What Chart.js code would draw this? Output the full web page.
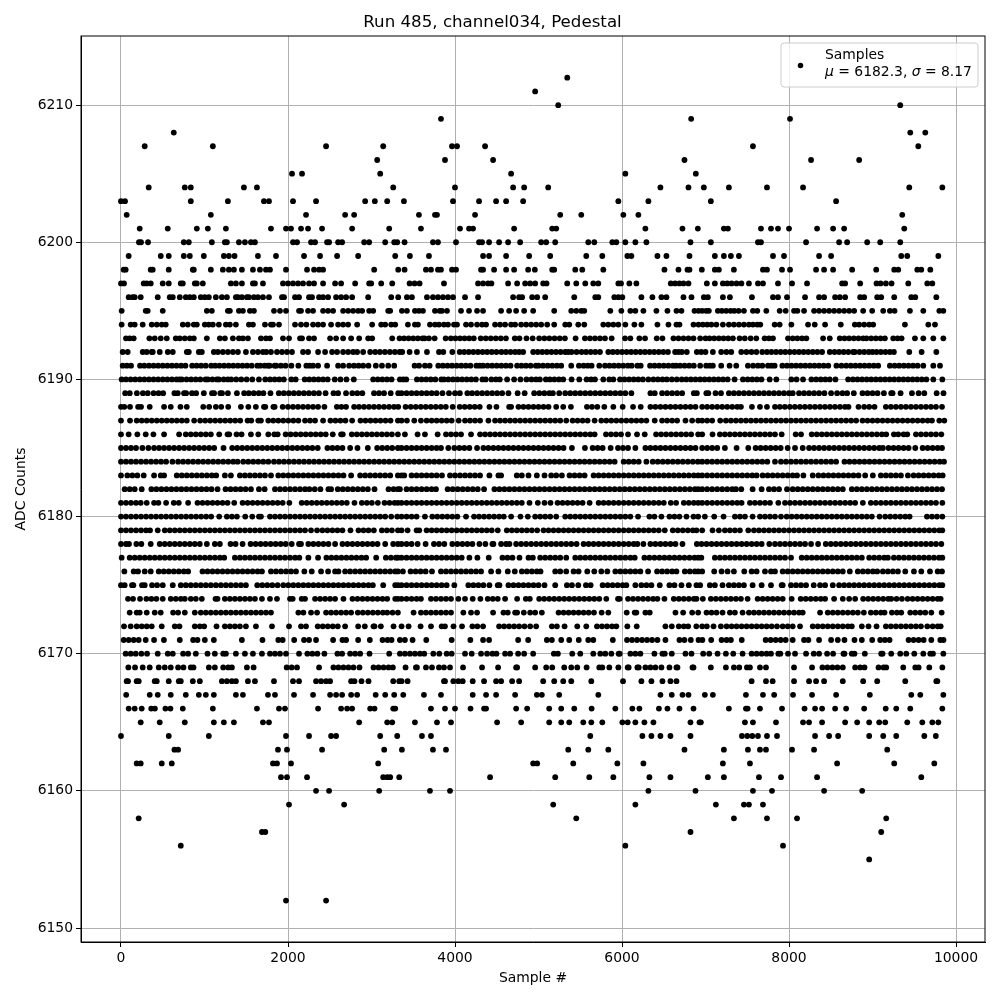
<!DOCTYPE html>
<html>
<head>
<meta charset="utf-8">
<title>Run 485, channel034, Pedestal</title>
<script src="https://cdn.jsdelivr.net/npm/chart.js@4"></script>
<style>
  html, body { margin: 0; padding: 0; background: #fff; }
  canvas { display: block; }
</style>
</head>
<body>
<canvas id="chart" width="1000" height="1000"></canvas>
<script>
"use strict";

const chartTitle = "Run 485, channel034, Pedestal";
const xTitle = "Sample #";
const yTitle = "ADC Counts";
const seriesName = "Samples";
const xTicks = [0, 2000, 4000, 6000, 8000, 10000];
const yTicks = [6150, 6160, 6170, 6180, 6190, 6200, 6210];

// sample numbers, one list per ADC level
const a6212 = [5344];
const a6211 = [4960];
const a6210 = [5236, 9332];
const a6209 = [3832, 6828, 8012];
const a6208 = [632, 9452, 9632];
const a6207 = [284, 1100, 2456, 3140, 3964, 4024, 4360, 7568, 9548];
const a6206 = [3068, 3880, 4456, 6748, 8264, 8840];
const a6205 = [2048, 2168, 3104, 4672, 6040, 6884];
const a6204 = [332, 764, 836, 1472, 1628, 3260, 4000, 4696, 4828, 5116, 6460, 6796, 6980, 7280, 7736, 8168, 9440, 9836];
const a6203 = [0, 48, 836, 1280, 1712, 1772, 2060, 2336, 2924, 3040, 3188, 3388, 3976, 4288, 4492, 4612, 4816, 5956, 6316, 7064, 8564];
const a6202 = [68, 1076, 2216, 2684, 2792, 3568, 3760, 3784, 4240, 5260, 5512, 6016, 6196, 9356];
const a6201 = [224, 560, 908, 1040, 1256, 1796, 1976, 2036, 2156, 2240, 2408, 2768, 3212, 3592, 4060, 4168, 4216, 4708, 5164, 5212, 6280, 6724, 6908, 7220, 7268, 7664, 7784, 7868, 8000, 8336, 8528, 8660, 9380];
const a6200 = [215, 240, 324, 752, 812, 1088, 1244, 1268, 1412, 1484, 1556, 1604, 2060, 2108, 2276, 2324, 2468, 2492, 2600, 2648, 2912, 2972, 3164, 3272, 3308, 3396, 3736, 3796, 4012, 4288, 4324, 4408, 4528, 4636, 4780, 5032, 5092, 5200, 5596, 5668, 5884, 5932, 6040, 6160, 6292, 6820, 7064, 7628, 7664, 8204, 8600, 8696, 8936, 9092, 9332];
const a6199 = [92, 476, 572, 752, 824, 992, 1232, 1292, 1360, 1640, 1856, 2192, 2384, 2588, 2840, 3284, 3460, 3688, 4336, 4408, 4612, 4888, 5140, 5572, 5764, 6064, 6112, 6424, 6532, 6808, 7112, 7220, 7304, 7400, 7808, 7940, 8360, 8504, 9344, 9416, 9788];
const a6198 = [32, 56, 356, 380, 572, 860, 872, 1076, 1220, 1292, 1352, 1448, 1580, 1664, 1736, 1784, 1976, 2228, 2312, 2372, 2420, 3032, 3320, 3396, 3652, 3712, 3796, 3832, 3964, 4012, 4312, 4336, 4468, 4612, 4708, 4876, 4956, 5164, 5188, 5440, 5524, 5776, 6508, 6676, 6784, 6808, 6956, 7112, 7160, 7340, 7688, 7736, 7916, 8012, 8324, 8420, 8528, 8756, 9044, 9260, 9308, 9536, 9584, 9692];
const a6197 = [0, 36, 272, 308, 356, 500, 572, 716, 740, 884, 908, 980, 1316, 1376, 1448, 1580, 1604, 1700, 1940, 2000, 2060, 2120, 2180, 2252, 2312, 2420, 2564, 2636, 2804, 2972, 2996, 3116, 3248, 3456, 3516, 3576, 3868, 4276, 4336, 4396, 4436, 4636, 4744, 4840, 4900, 4960, 5056, 5096, 5344, 5452, 5560, 5656, 5716, 5956, 5988, 6088, 6172, 6584, 6636, 6688, 6736, 6796, 7016, 7112, 7208, 7260, 7312, 7372, 7430, 7520, 7628, 7688, 7868, 8036, 8216, 8636, 8672, 8852, 9048, 9096, 9160, 9228, 9428, 9656, 9716];
const a6196 = [92, 140, 164, 236, 440, 584, 620, 704, 776, 824, 872, 956, 1004, 1052, 1136, 1208, 1268, 1376, 1400, 1448, 1508, 1532, 1592, 1640, 1700, 1772, 1928, 1952, 2084, 2132, 2252, 2288, 2372, 2420, 2480, 2576, 2636, 2696, 2768, 2960, 3236, 3320, 3424, 3484, 3664, 3736, 3796, 3856, 3916, 3976, 4120, 4276, 4696, 4768, 4804, 4924, 4984, 5080, 5428, 5680, 5716, 5908, 5956, 6004, 6232, 6364, 6472, 6532, 6736, 6832, 6980, 7028, 7208, 7292, 7556, 7808, 7868, 7976, 8192, 8360, 8420, 8552, 8608, 8672, 8852, 8900, 9056, 9104, 9260, 9464, 9512, 9764];
const a6195 = [8, 296, 320, 500, 1028, 1088, 1280, 1304, 1412, 1460, 1544, 1592, 1832, 1904, 1976, 2132, 2156, 2240, 2300, 2420, 2480, 2540, 2660, 2720, 2780, 2840, 2888, 2972, 3020, 3200, 3224, 3364, 3424, 3520, 3568, 3616, 3760, 3816, 3844, 3904, 4072, 4168, 4264, 4336, 4552, 4648, 4732, 4828, 4936, 5188, 5392, 5452, 5512, 5548, 5860, 5992, 6100, 6160, 6256, 6412, 6544, 6652, 6712, 6868, 6916, 6960, 7008, 7040, 7148, 7196, 7248, 7300, 7344, 7396, 7460, 7568, 7620, 7728, 7888, 7960, 8060, 8100, 8180, 8300, 8360, 8420, 8480, 8540, 8600, 8660, 8720, 8780, 8888, 8996, 9128, 9208, 9264, 9448, 9608, 9800, 9848];
const a6194 = [8, 116, 164, 260, 368, 428, 488, 536, 740, 800, 872, 908, 1004, 1052, 1100, 1172, 1256, 1304, 1376, 1532, 1580, 1724, 1796, 1820, 1892, 2084, 2156, 2220, 2300, 2360, 2420, 2516, 2600, 2660, 2720, 2828, 3008, 3116, 3164, 3236, 3284, 3436, 3520, 3556, 3700, 3760, 3808, 3868, 3916, 3988, 4024, 4132, 4192, 4264, 4324, 4372, 4480, 4540, 4600, 4672, 4720, 4792, 4852, 4912, 4972, 5032, 5104, 5188, 5320, 5368, 5476, 5548, 5776, 5836, 5896, 5956, 6040, 6148, 6232, 6424, 6556, 6652, 6688, 6856, 6916, 6968, 7020, 7070, 7130, 7208, 7280, 7340, 7400, 7460, 7520, 7568, 7620, 7656, 7828, 7888, 8028, 8228, 8308, 8432, 8620, 8788, 8840, 8900, 8960, 9008, 9388, 9668, 9748];
const a6193 = [60, 104, 152, 340, 404, 476, 548, 656, 704, 764, 824, 872, 1028, 1184, 1244, 1340, 1412, 1460, 1520, 1676, 1736, 1784, 1940, 2012, 2144, 2168, 2252, 2312, 2504, 2576, 2660, 2756, 2852, 2960, 3008, 3248, 3336, 3390, 3445, 3500, 3555, 3610, 3636, 3688, 3756, 3888, 3950, 4005, 4060, 4115, 4170, 4225, 4308, 4368, 4428, 4488, 4548, 4610, 4716, 4772, 4856, 4930, 5008, 5070, 5130, 5192, 5254, 5316, 5444, 5556, 5616, 5676, 5736, 5796, 5876, 6036, 6100, 6208, 6276, 6416, 6484, 6616, 6676, 6736, 6796, 6856, 6936, 7000, 7048, 7104, 7160, 7216, 7272, 7328, 7408, 7470, 7540, 7608, 7708, 7760, 7808, 7988, 8044, 8100, 8156, 8208, 8408, 8488, 8608, 8664, 8720, 8776, 8832, 8888, 8928, 8984, 9040, 9096, 9148, 9248, 9300, 9348, 9508, 9608, 9728, 9848];
const a6192 = [20, 80, 260, 308, 368, 380, 464, 560, 620, 788, 812, 932, 968, 1112, 1160, 1220, 1280, 1340, 1400, 1496, 1580, 1640, 1700, 1740, 1796, 1868, 1928, 1988, 2048, 2180, 2240, 2360, 2444, 2528, 2588, 2660, 2720, 2780, 2828, 2900, 2984, 3044, 3100, 3160, 3220, 3280, 3336, 3368, 3456, 3544, 3664, 3808, 3860, 3968, 4056, 4110, 4165, 4220, 4275, 4330, 4385, 4440, 4496, 4556, 4610, 4665, 4720, 4768, 4816, 4936, 4990, 5045, 5100, 5155, 5210, 5265, 5320, 5356, 5396, 5456, 5516, 5570, 5625, 5680, 5736, 5836, 5890, 5945, 6000, 6055, 6110, 6165, 6220, 6275, 6330, 6385, 6440, 6495, 6550, 6636, 6676, 6716, 6776, 6896, 6948, 7000, 7088, 7188, 7250, 7308, 7428, 7490, 7550, 7610, 7680, 7736, 7790, 7845, 7900, 7955, 8010, 8065, 8120, 8175, 8230, 8285, 8340, 8396, 8488, 8545, 8600, 8655, 8710, 8768, 8788, 8845, 8900, 8955, 9000, 9048, 9100, 9155, 9208, 9256, 9440, 9588, 9764];
const a6191 = [20, 70, 120, 228, 280, 335, 390, 445, 500, 555, 610, 665, 720, 772, 852, 905, 960, 1015, 1080, 1128, 1180, 1235, 1290, 1345, 1400, 1455, 1510, 1565, 1632, 1668, 1720, 1760, 1780, 1840, 1860, 1915, 1970, 2040, 2124, 2220, 2260, 2300, 2360, 2468, 2600, 2660, 2732, 2790, 2845, 2900, 2964, 3052, 3125, 3200, 3272, 3516, 3570, 3640, 3696, 3800, 3855, 3910, 3965, 4020, 4075, 4130, 4185, 4256, 4296, 4336, 4390, 4445, 4500, 4555, 4610, 4665, 4744, 4796, 4850, 4905, 4968, 5000, 5055, 5110, 5165, 5220, 5272, 5392, 5484, 5540, 5590, 5636, 5728, 5796, 5850, 5905, 5960, 6015, 6070, 6116, 6184, 6224, 6336, 6390, 6445, 6500, 6555, 6610, 6648, 6696, 6750, 6805, 6860, 6936, 7008, 7050, 7088, 7188, 7288, 7368, 7508, 7570, 7628, 7680, 7748, 7790, 7828, 7920, 7975, 8030, 8085, 8140, 8195, 8250, 8305, 8360, 8415, 8470, 8568, 8628, 8685, 8740, 8795, 8850, 8905, 8960, 9015, 9068, 9208, 9265, 9320, 9375, 9430, 9485, 9540, 9608, 9728, 9808];
const a6190 = [8, 60, 115, 170, 225, 280, 335, 390, 445, 500, 555, 610, 665, 700, 728, 785, 840, 895, 950, 1012, 1040, 1095, 1148, 1172, 1230, 1280, 1320, 1380, 1440, 1505, 1572, 1652, 1728, 1785, 1840, 1895, 1950, 2040, 2092, 2200, 2255, 2310, 2365, 2420, 2475, 2560, 2628, 2700, 2788, 3020, 3075, 3130, 3185, 3240, 3340, 3380, 3416, 3544, 3600, 3655, 3710, 3765, 3836, 3868, 3920, 3975, 4030, 4085, 4140, 4195, 4250, 4328, 4368, 4436, 4490, 4536, 4624, 4708, 4784, 4856, 4916, 4970, 5016, 5088, 5136, 5190, 5245, 5296, 5396, 5488, 5576, 5630, 5676, 5776, 5848, 5896, 5976, 6030, 6085, 6140, 6195, 6250, 6316, 6376, 6430, 6485, 6536, 6596, 6656, 6716, 6770, 6825, 6880, 6936, 6990, 7045, 7100, 7155, 7210, 7265, 7348, 7448, 7505, 7560, 7615, 7670, 7768, 7848, 8028, 8090, 8168, 8268, 8325, 8380, 8435, 8488, 8556, 8708, 8765, 8820, 8875, 8930, 8985, 9040, 9095, 9150, 9205, 9260, 9315, 9370, 9425, 9480, 9535, 9590, 9645, 9728, 9836];
const a6189 = [50, 105, 190, 262, 320, 390, 450, 505, 640, 680, 755, 780, 850, 900, 992, 1090, 1115, 1190, 1210, 1280, 1388, 1475, 1530, 1590, 1650, 1705, 1790, 1890, 1950, 2010, 2070, 2130, 2190, 2250, 2310, 2370, 2450, 2545, 2600, 2695, 2770, 2830, 2890, 3030, 3090, 3150, 3230, 3320, 3360, 3420, 3480, 3540, 3600, 3660, 3720, 3780, 3850, 3928, 4000, 4058, 4148, 4205, 4265, 4325, 4385, 4445, 4505, 4565, 4640, 4750, 4834, 4948, 5010, 5070, 5130, 5172, 5248, 5320, 5380, 5440, 5500, 5560, 5620, 5680, 5740, 5800, 5860, 5920, 5980, 6040, 6112, 6340, 6392, 6480, 6540, 6600, 6660, 6720, 6860, 6896, 7010, 7034, 7120, 7185, 7280, 7340, 7400, 7460, 7520, 7580, 7640, 7700, 7760, 7820, 7880, 7940, 8000, 8044, 8120, 8180, 8240, 8300, 8360, 8424, 8504, 8576, 8640, 8696, 8776, 8880, 8940, 9000, 9060, 9136, 9224, 9240, 9336, 9472, 9552, 9620, 9768, 9850];
const a6188 = [0, 40, 108, 205, 240, 344, 516, 596, 712, 788, 985, 1056, 1136, 1200, 1284, 1436, 1525, 1615, 1712, 1728, 1825, 1840, 1936, 2000, 2060, 2120, 2180, 2240, 2300, 2360, 2436, 2585, 2640, 2695, 2792, 2850, 2910, 2970, 3030, 3090, 3150, 3210, 3270, 3320, 3408, 3470, 3530, 3590, 3650, 3710, 3770, 3830, 3890, 3972, 4056, 4116, 4176, 4236, 4296, 4412, 4496, 4648, 4672, 4760, 4820, 4880, 4940, 5000, 5060, 5120, 5212, 5296, 5388, 5580, 5640, 5704, 5788, 5896, 6008, 6132, 6224, 6340, 6400, 6460, 6520, 6580, 6640, 6700, 6760, 6820, 6880, 6960, 7020, 7080, 7140, 7200, 7260, 7320, 7380, 7424, 7556, 7652, 7736, 7832, 7890, 7950, 8010, 8070, 8130, 8190, 8250, 8310, 8370, 8430, 8490, 8550, 8610, 8670, 8712, 8832, 8900, 8960, 9024, 9160, 9220, 9280, 9340, 9400, 9460, 9520, 9580, 9640, 9700, 9760, 9832];
const a6187 = [0, 108, 188, 248, 308, 368, 428, 488, 548, 608, 668, 728, 788, 876, 948, 1008, 1068, 1128, 1188, 1248, 1308, 1368, 1428, 1516, 1560, 1644, 1676, 1764, 1824, 1884, 1944, 2004, 2064, 2124, 2204, 2264, 2324, 2420, 2508, 2568, 2628, 2688, 2768, 2868, 2928, 2988, 3048, 3108, 3168, 3228, 3316, 3360, 3424, 3512, 3592, 3660, 3720, 3780, 3840, 3900, 3960, 4044, 4120, 4180, 4240, 4300, 4400, 4480, 4540, 4600, 4660, 4720, 4780, 4840, 4900, 4960, 5020, 5080, 5140, 5200, 5260, 5332, 5408, 5468, 5528, 5588, 5672, 5752, 5812, 5872, 5932, 5992, 6052, 6112, 6172, 6232, 6292, 6392, 6480, 6540, 6600, 6660, 6760, 6840, 6912, 6960, 7020, 7080, 7176, 7244, 7304, 7364, 7424, 7484, 7544, 7604, 7664, 7724, 7784, 7844, 7904, 7964, 8024, 8084, 8144, 8204, 8264, 8324, 8384, 8444, 8504, 8564, 8624, 8684, 8744, 8804, 8880, 8940, 9000, 9060, 9120, 9180, 9240, 9300, 9360, 9420, 9480, 9540, 9600, 9660, 9712, 9800, 9860];
const a6186 = [0, 92, 196, 296, 388, 516, 696, 776, 836, 896, 956, 1016, 1076, 1176, 1276, 1296, 1384, 1444, 1556, 1644, 1764, 1836, 1876, 1972, 2032, 2092, 2152, 2212, 2272, 2332, 2392, 2452, 2536, 2636, 2656, 2764, 2824, 2884, 2944, 3004, 3064, 3124, 3184, 3244, 3316, 3400, 3552, 3640, 3792, 3892, 3952, 4012, 4072, 4192, 4300, 4360, 4420, 4480, 4540, 4600, 4660, 4720, 4780, 4840, 4900, 4960, 5020, 5080, 5140, 5200, 5260, 5320, 5380, 5440, 5500, 5560, 5620, 5672, 5808, 5868, 5928, 5988, 6072, 6180, 6272, 6408, 6468, 6528, 6588, 6648, 6708, 6768, 6828, 6912, 6960, 7084, 7172, 7232, 7292, 7352, 7412, 7472, 7532, 7592, 7652, 7712, 7772, 7832, 7912, 8080, 8144, 8272, 8332, 8392, 8452, 8512, 8572, 8632, 8692, 8752, 8812, 8872, 8932, 8992, 9052, 9112, 9164, 9256, 9308, 9372, 9416, 9520, 9580, 9640, 9700, 9760, 9824];
const a6185 = [0, 60, 120, 180, 256, 328, 396, 456, 516, 576, 636, 696, 756, 816, 876, 936, 996, 1056, 1116, 1228, 1332, 1392, 1452, 1512, 1572, 1632, 1692, 1752, 1812, 1872, 1932, 1992, 2052, 2112, 2172, 2232, 2292, 2356, 2472, 2532, 2592, 2652, 2744, 2832, 2956, 3068, 3128, 3188, 3248, 3316, 3360, 3420, 3480, 3540, 3600, 3660, 3720, 3780, 3832, 3920, 3992, 4052, 4112, 4172, 4264, 4340, 4400, 4460, 4520, 4580, 4640, 4700, 4760, 4820, 4880, 4940, 5000, 5060, 5120, 5180, 5240, 5300, 5400, 5556, 5648, 5708, 5768, 5864, 5952, 6012, 6072, 6160, 6280, 6340, 6400, 6460, 6520, 6580, 6640, 6700, 6760, 6820, 6880, 6960, 7020, 7080, 7140, 7232, 7372, 7512, 7600, 7660, 7720, 7780, 7840, 7900, 7984, 8072, 8164, 8240, 8300, 8360, 8420, 8480, 8540, 8600, 8660, 8720, 8780, 8840, 8900, 8960, 9020, 9080, 9124, 9192, 9252, 9312, 9372, 9432, 9512, 9600, 9660, 9720, 9780, 9832];
const a6184 = [0, 60, 120, 180, 240, 300, 360, 420, 480, 540, 616, 684, 744, 804, 864, 924, 984, 1044, 1104, 1164, 1224, 1284, 1344, 1396, 1464, 1524, 1584, 1644, 1704, 1764, 1832, 1892, 1952, 2012, 2072, 2132, 2192, 2252, 2312, 2372, 2432, 2492, 2552, 2612, 2672, 2732, 2792, 2852, 2912, 2972, 3032, 3092, 3152, 3212, 3272, 3332, 3392, 3452, 3512, 3572, 3632, 3692, 3752, 3812, 3872, 3932, 3992, 4052, 4112, 4172, 4232, 4292, 4352, 4412, 4472, 4532, 4592, 4652, 4712, 4772, 4832, 4892, 4952, 5012, 5072, 5132, 5192, 5252, 5312, 5372, 5432, 5492, 5552, 5612, 5672, 5732, 5792, 5852, 5912, 6020, 6080, 6140, 6200, 6292, 6368, 6428, 6488, 6548, 6608, 6668, 6728, 6788, 6848, 6908, 6960, 7020, 7080, 7140, 7200, 7260, 7320, 7380, 7440, 7500, 7560, 7620, 7680, 7740, 7832, 7904, 7964, 8024, 8084, 8144, 8204, 8264, 8324, 8384, 8444, 8504, 8564, 8664, 8724, 8784, 8844, 8904, 8964, 9024, 9084, 9144, 9204, 9264, 9324, 9384, 9444, 9504, 9564, 9624, 9684, 9744, 9804, 9856];
const a6183 = [0, 76, 136, 196, 272, 396, 476, 516, 668, 728, 788, 848, 908, 968, 1028, 1088, 1140, 1244, 1316, 1424, 1484, 1544, 1604, 1664, 1724, 1796, 1884, 1944, 2004, 2064, 2124, 2184, 2244, 2304, 2364, 2424, 2484, 2544, 2604, 2664, 2756, 2864, 2924, 2984, 3044, 3104, 3164, 3224, 3316, 3360, 3392, 3480, 3540, 3600, 3660, 3720, 3780, 3844, 3940, 4000, 4060, 4120, 4180, 4240, 4300, 4412, 4520, 4552, 4740, 4800, 4880, 4980, 5072, 5152, 5212, 5280, 5372, 5432, 5492, 5552, 5660, 5720, 5780, 5840, 5900, 5960, 6020, 6080, 6140, 6200, 6260, 6320, 6380, 6440, 6500, 6560, 6620, 6680, 6740, 6800, 6860, 6912, 6960, 7020, 7080, 7140, 7200, 7260, 7320, 7380, 7440, 7500, 7560, 7612, 7684, 7744, 7804, 7864, 7924, 7984, 8044, 8096, 8172, 8284, 8352, 8412, 8472, 8532, 8592, 8652, 8712, 8772, 8832, 8912, 9004, 9100, 9160, 9220, 9280, 9340, 9424, 9492, 9552, 9612, 9672, 9732, 9792, 9840];
const a6182 = [44, 104, 164, 248, 364, 424, 484, 544, 604, 664, 724, 784, 844, 904, 964, 1024, 1084, 1156, 1252, 1312, 1372, 1432, 1492, 1556, 1652, 1720, 1844, 1904, 1964, 2024, 2084, 2144, 2204, 2256, 2320, 2388, 2484, 2516, 2596, 2656, 2716, 2776, 2836, 2896, 2956, 3036, 3204, 3264, 3316, 3340, 3420, 3480, 3540, 3600, 3660, 3720, 3772, 3912, 3972, 4032, 4092, 4152, 4212, 4272, 4348, 4472, 4532, 4592, 4652, 4712, 4772, 4832, 4892, 4952, 5012, 5072, 5132, 5192, 5252, 5312, 5372, 5432, 5492, 5552, 5612, 5672, 5732, 5792, 5852, 5912, 5972, 6032, 6092, 6152, 6212, 6272, 6332, 6392, 6452, 6512, 6572, 6632, 6692, 6752, 6812, 6872, 6912, 6960, 7020, 7080, 7140, 7200, 7260, 7320, 7364, 7428, 7564, 7672, 7760, 7820, 7880, 7976, 8044, 8104, 8164, 8224, 8284, 8344, 8404, 8464, 8524, 8584, 8644, 8752, 8812, 8872, 8932, 8992, 9052, 9112, 9172, 9232, 9292, 9352, 9412, 9472, 9532, 9592, 9652, 9712, 9772, 9832];
const a6181 = [0, 60, 120, 180, 236, 308, 396, 448, 540, 632, 692, 804, 916, 976, 1036, 1096, 1156, 1216, 1276, 1356, 1456, 1516, 1576, 1636, 1696, 1756, 1816, 1876, 1936, 2016, 2164, 2224, 2284, 2344, 2404, 2464, 2524, 2584, 2644, 2704, 2796, 2884, 2944, 3004, 3076, 3156, 3216, 3276, 3316, 3360, 3420, 3480, 3540, 3600, 3660, 3720, 3780, 3840, 3900, 3960, 4020, 4080, 4140, 4200, 4260, 4320, 4380, 4440, 4500, 4560, 4620, 4680, 4740, 4800, 4892, 4992, 5072, 5144, 5228, 5288, 5348, 5408, 5468, 5528, 5612, 5720, 5780, 5840, 5900, 5960, 6020, 6080, 6140, 6200, 6260, 6320, 6380, 6440, 6500, 6584, 6648, 6740, 6800, 6860, 6912, 6960, 7020, 7080, 7140, 7200, 7260, 7320, 7380, 7432, 7532, 7592, 7652, 7712, 7772, 7872, 7952, 8012, 8072, 8132, 8192, 8252, 8312, 8372, 8432, 8492, 8552, 8612, 8672, 8732, 8792, 8884, 8980, 9040, 9100, 9160, 9220, 9280, 9340, 9400, 9460, 9520, 9580, 9640, 9700, 9760, 9836];
const a6180 = [0, 60, 120, 180, 240, 300, 360, 420, 480, 540, 600, 660, 720, 780, 840, 900, 960, 1020, 1080, 1176, 1268, 1328, 1388, 1488, 1572, 1652, 1676, 1784, 1844, 1904, 1964, 2024, 2084, 2144, 2204, 2264, 2324, 2384, 2444, 2504, 2564, 2624, 2684, 2744, 2804, 2864, 2924, 2984, 3044, 3104, 3164, 3236, 3308, 3360, 3420, 3480, 3540, 3640, 3728, 3788, 3848, 3908, 3968, 4028, 4132, 4228, 4288, 4348, 4408, 4468, 4528, 4584, 4672, 4784, 4872, 4960, 5020, 5080, 5140, 5212, 5320, 5380, 5440, 5500, 5560, 5620, 5680, 5740, 5800, 5860, 5920, 5980, 6040, 6100, 6192, 6328, 6388, 6472, 6568, 6628, 6688, 6772, 6856, 6912, 6992, 7104, 7216, 7352, 7412, 7472, 7564, 7652, 7712, 7772, 7832, 7904, 7972, 8032, 8092, 8152, 8212, 8272, 8332, 8392, 8452, 8512, 8572, 8632, 8692, 8752, 8812, 8872, 8932, 8992, 9084, 9152, 9212, 9272, 9332, 9392, 9444, 9652, 9712, 9772, 9836];
const a6179 = [0, 60, 120, 180, 240, 300, 348, 440, 524, 584, 644, 704, 764, 824, 884, 944, 1004, 1064, 1124, 1184, 1244, 1304, 1364, 1424, 1484, 1544, 1604, 1664, 1724, 1784, 1844, 1904, 1964, 2024, 2084, 2144, 2204, 2276, 2348, 2412, 2472, 2532, 2592, 2652, 2748, 2844, 2904, 2964, 3028, 3124, 3184, 3244, 3316, 3360, 3432, 3540, 3572, 3660, 3720, 3780, 3840, 3900, 3960, 4020, 4080, 4140, 4200, 4260, 4320, 4380, 4440, 4512, 4620, 4680, 4740, 4800, 4860, 4920, 4984, 5060, 5120, 5180, 5240, 5300, 5360, 5420, 5480, 5540, 5600, 5660, 5720, 5780, 5840, 5900, 5960, 6020, 6080, 6140, 6200, 6260, 6320, 6380, 6440, 6512, 6608, 6668, 6728, 6788, 6848, 6892, 6960, 7084, 7160, 7232, 7292, 7352, 7412, 7512, 7580, 7640, 7700, 7760, 7820, 7880, 7940, 8000, 8060, 8120, 8180, 8240, 8300, 8360, 8420, 8480, 8540, 8600, 8660, 8720, 8780, 8840, 8900, 8960, 9020, 9080, 9140, 9200, 9260, 9320, 9380, 9440, 9500, 9560, 9620, 9680, 9740, 9800, 9836];
const a6178 = [0, 60, 96, 184, 244, 356, 464, 524, 584, 644, 704, 764, 824, 884, 944, 1028, 1124, 1184, 1312, 1372, 1456, 1552, 1612, 1672, 1732, 1792, 1852, 1912, 1972, 2044, 2132, 2156, 2244, 2304, 2364, 2424, 2484, 2564, 2652, 2712, 2772, 2832, 2892, 2952, 3012, 3072, 3164, 3260, 3316, 3360, 3420, 3480, 3552, 3648, 3748, 3808, 3872, 3968, 4028, 4088, 4148, 4208, 4292, 4364, 4448, 4460, 4552, 4612, 4652, 4732, 4792, 4852, 4912, 4972, 5032, 5092, 5152, 5212, 5272, 5332, 5392, 5456, 5540, 5600, 5660, 5720, 5780, 5840, 5900, 5960, 6020, 6080, 6140, 6184, 6256, 6340, 6400, 6460, 6520, 6580, 6640, 6724, 6896, 6952, 7012, 7072, 7132, 7192, 7252, 7312, 7372, 7432, 7492, 7552, 7612, 7672, 7764, 7832, 7892, 7952, 8012, 8072, 8132, 8192, 8264, 8348, 8440, 8500, 8560, 8620, 8680, 8740, 8800, 8860, 8920, 8980, 9040, 9100, 9160, 9220, 9280, 9340, 9400, 9460, 9520, 9580, 9640, 9700, 9760, 9824];
const a6177 = [8, 104, 164, 224, 284, 344, 404, 464, 524, 584, 644, 704, 764, 824, 884, 944, 1004, 1064, 1124, 1184, 1236, 1364, 1424, 1484, 1544, 1604, 1664, 1724, 1784, 1844, 1904, 1964, 2024, 2084, 2136, 2244, 2360, 2460, 2520, 2580, 2640, 2700, 2760, 2820, 2880, 2936, 3056, 3172, 3232, 3292, 3316, 3360, 3420, 3480, 3540, 3600, 3660, 3720, 3780, 3840, 3900, 3960, 4020, 4080, 4172, 4268, 4404, 4568, 4628, 4688, 4772, 4880, 4932, 5020, 5080, 5140, 5200, 5260, 5332, 5440, 5500, 5560, 5620, 5680, 5740, 5800, 5860, 5920, 5980, 6040, 6100, 6152, 6268, 6328, 6388, 6448, 6508, 6568, 6628, 6688, 6748, 6808, 6868, 6912, 6950, 7112, 7172, 7232, 7292, 7352, 7412, 7472, 7532, 7592, 7652, 7712, 7772, 7832, 7892, 7952, 8024, 8152, 8212, 8272, 8332, 8392, 8452, 8512, 8572, 8632, 8692, 8752, 8812, 8872, 8960, 9020, 9080, 9140, 9184, 9256, 9316, 9376, 9436, 9496, 9556, 9616, 9676, 9736, 9796, 9836];
const a6176 = [40, 152, 204, 284, 356, 452, 512, 572, 632, 692, 752, 804, 976, 1036, 1096, 1156, 1216, 1276, 1336, 1396, 1456, 1516, 1576, 1636, 1688, 1796, 1856, 1916, 1976, 2036, 2096, 2196, 2284, 2396, 2480, 2564, 2604, 2684, 2744, 2804, 2864, 2924, 2984, 3044, 3104, 3164, 3224, 3284, 3316, 3376, 3468, 3528, 3588, 3648, 3724, 3832, 3892, 3952, 4012, 4072, 4132, 4192, 4252, 4312, 4432, 4520, 4632, 4716, 4800, 4860, 4920, 4980, 5024, 5200, 5260, 5332, 5420, 5480, 5584, 5668, 5752, 5824, 5920, 5980, 6040, 6100, 6160, 6220, 6312, 6420, 6480, 6540, 6600, 6652, 6752, 6812, 6872, 6912, 6960, 7104, 7192, 7264, 7340, 7464, 7552, 7612, 7712, 7784, 7832, 7924, 7984, 8044, 8104, 8164, 8224, 8284, 8344, 8404, 8464, 8524, 8584, 8644, 8728, 8824, 8884, 8944, 9004, 9056, 9124, 9184, 9244, 9304, 9392, 9496, 9584, 9688, 9780, 9832];
const a6175 = [0, 44, 132, 148, 252, 284, 372, 432, 500, 620, 716, 776, 836, 896, 956, 1016, 1076, 1136, 1196, 1256, 1316, 1376, 1436, 1496, 1632, 1692, 1752, 1812, 1876, 1944, 2004, 2064, 2124, 2184, 2244, 2304, 2364, 2424, 2484, 2544, 2604, 2664, 2724, 2784, 2844, 2904, 2964, 3016, 3140, 3284, 3316, 3360, 3420, 3480, 3540, 3600, 3660, 3720, 3780, 3840, 3900, 3992, 4160, 4220, 4280, 4340, 4412, 4512, 4532, 4640, 4700, 4760, 4820, 4880, 4940, 5000, 5072, 5200, 5340, 5400, 5476, 5568, 5624, 5768, 5828, 5888, 5948, 6008, 6052, 6160, 6232, 6292, 6352, 6452, 6568, 6628, 6712, 6800, 6892, 6936, 7052, 7112, 7204, 7280, 7340, 7400, 7460, 7564, 7672, 7784, 7912, 7924, 8024, 8084, 8144, 8204, 8296, 8372, 8432, 8524, 8600, 8660, 8720, 8780, 8840, 8900, 8960, 9020, 9080, 9140, 9200, 9260, 9320, 9380, 9440, 9500, 9560, 9620, 9680, 9740, 9800, 9836];
const a6174 = [84, 144, 228, 304, 364, 424, 500, 596, 656, 716, 764, 836, 896, 968, 1132, 1156, 1244, 1304, 1364, 1424, 1484, 1544, 1604, 1688, 1784, 1868, 2024, 2056, 2164, 2204, 2324, 2384, 2444, 2504, 2564, 2664, 2772, 2832, 2892, 2952, 3012, 3072, 3132, 3188, 3284, 3316, 3360, 3420, 3480, 3540, 3592, 3712, 3772, 3832, 3892, 3952, 4040, 4120, 4212, 4304, 4392, 4452, 4512, 4600, 4744, 4848, 4896, 5008, 5068, 5128, 5188, 5248, 5308, 5368, 5428, 5488, 5548, 5608, 5668, 5728, 5812, 5952, 5972, 6072, 6132, 6192, 6252, 6312, 6372, 6424, 6508, 6620, 6680, 6740, 6800, 6860, 6892, 6968, 7064, 7124, 7184, 7244, 7304, 7364, 7424, 7504, 7624, 7684, 7744, 7804, 7864, 7924, 8032, 8140, 8200, 8260, 8320, 8380, 8432, 8540, 8644, 8720, 8792, 8888, 8948, 9008, 9068, 9128, 9188, 9224, 9288, 9352, 9420, 9480, 9540, 9600, 9660, 9720, 9780, 9816];
const a6173 = [104, 188, 224, 308, 404, 476, 624, 684, 764, 884, 956, 1016, 1076, 1136, 1196, 1256, 1316, 1376, 1436, 1496, 1556, 1616, 1676, 1736, 1796, 2124, 2184, 2276, 2348, 2456, 2516, 2576, 2636, 2696, 2756, 2836, 2896, 2956, 3016, 3076, 3136, 3188, 3252, 3316, 3504, 3592, 3652, 3712, 3772, 3832, 3892, 3952, 4100, 4192, 4264, 4456, 4580, 4632, 4720, 4744, 4824, 4900, 4960, 5040, 5240, 5300, 5360, 5420, 5480, 5540, 5600, 5664, 5756, 5836, 6056, 6152, 6172, 6280, 6332, 6640, 6732, 6840, 6912, 7012, 7072, 7132, 7204, 7292, 7352, 7444, 7520, 7580, 7640, 7700, 7760, 7820, 7880, 7940, 8000, 8060, 8120, 8164, 8372, 8464, 8524, 8584, 8644, 8704, 8764, 8824, 8896, 8980, 9040, 9100, 9144, 9232, 9292, 9344, 9452, 9512, 9572, 9632, 9704, 9828];
const a6172 = [36, 116, 188, 248, 308, 368, 488, 644, 700, 884, 944, 996, 1144, 1244, 1304, 1364, 1424, 1496, 1616, 1808, 2012, 2156, 2216, 2356, 2416, 2476, 2536, 2596, 2684, 2840, 2920, 3024, 3036, 3112, 3264, 3360, 3444, 3588, 3712, 3840, 3880, 3982, 4084, 4208, 4268, 4336, 4528, 4588, 4648, 4708, 4768, 4832, 4900, 4972, 5160, 5220, 5312, 5464, 5572, 5700, 5760, 5820, 5880, 5932, 6064, 6176, 6520, 6596, 6680, 6740, 6792, 6890, 6960, 7016, 7096, 7184, 7252, 7312, 7372, 7432, 7492, 7552, 7612, 7672, 7732, 7792, 7856, 7924, 7984, 8044, 8132, 8284, 8344, 8404, 8464, 8524, 8584, 8644, 8704, 8752, 8872, 8952, 9048, 9160, 9220, 9280, 9340, 9400, 9460, 9520, 9580, 9656, 9720, 9780, 9816];
const a6171 = [32, 92, 152, 212, 296, 396, 514, 704, 864, 916, 1004, 1112, 1448, 1694, 1884, 1936, 2074, 2192, 2252, 2336, 2540, 2652, 2696, 2840, 2980, 3132, 3192, 3240, 3340, 3400, 3492, 3656, 3960, 4184, 4336, 4408, 4756, 4876, 5100, 5160, 5272, 5368, 5482, 5596, 5656, 5890, 6060, 6120, 6180, 6240, 6300, 6360, 6424, 6520, 6688, 6748, 6824, 6916, 6962, 7068, 7192, 7252, 7304, 7434, 7720, 7780, 7840, 7900, 7960, 8044, 8180, 8232, 8360, 8504, 8584, 8664, 8784, 8872, 8996, 9092, 9148, 9204, 9432, 9492, 9552, 9612, 9704, 9812, 9850];
const a6170 = [56, 116, 176, 244, 312, 440, 560, 620, 744, 804, 896, 1036, 1124, 1224, 1256, 1376, 1484, 1580, 1688, 1784, 1844, 1904, 1976, 2132, 2232, 2292, 2352, 2436, 2592, 2648, 2744, 2804, 2864, 2976, 3212, 3340, 3400, 3460, 3520, 3580, 3632, 3740, 3812, 3900, 3960, 4120, 4200, 4312, 4384, 4448, 4496, 4600, 4660, 4756, 4828, 4936, 5184, 5232, 5404, 5500, 5656, 5740, 5800, 5872, 5960, 5972, 6100, 6160, 6220, 6388, 6484, 6512, 6596, 6760, 6832, 6972, 7044, 7144, 7244, 7332, 7444, 7552, 7612, 7672, 7732, 7784, 7872, 7896, 7988, 8072, 8204, 8296, 8360, 8456, 8528, 8652, 8664, 8752, 8784, 8908, 9104, 9120, 9224, 9332, 9404, 9500, 9608, 9692, 9724, 9848];
const a6169 = [88, 168, 260, 344, 452, 524, 596, 684, 748, 836, 868, 1052, 1124, 1224, 1284, 1328, 1508, 1588, 1984, 2044, 2108, 2372, 2544, 2604, 2664, 2724, 2784, 2856, 3024, 3084, 3144, 3204, 3256, 3408, 3532, 3544, 3652, 3724, 3808, 3868, 3940, 4096, 4324, 4516, 4732, 4744, 4960, 5092, 5164, 5308, 5392, 5464, 5576, 5728, 5764, 5848, 5956, 6068, 6080, 6184, 6200, 6280, 6340, 6400, 6472, 6568, 6652, 6664, 6844, 6856, 7064, 7244, 7340, 7404, 7496, 7532, 7652, 7724, 8060, 8276, 8400, 8460, 8520, 8580, 8644, 8792, 8852, 8904, 9072, 9132, 9164, 9368, 9512, 9552, 9680, 9836];
const a6168 = [68, 84, 188, 212, 404, 428, 572, 692, 716, 860, 944, 1208, 1268, 1328, 1376, 1520, 1604, 1832, 2060, 2132, 2336, 2396, 2456, 2504, 2756, 2796, 2880, 2964, 3260, 3332, 3360, 3432, 3868, 3880, 3980, 4040, 4092, 4212, 4348, 4492, 4552, 4684, 4768, 5056, 5188, 5296, 5392, 5632, 6012, 6232, 6352, 6484, 6580, 6652, 7552, 7724, 7804, 8060, 8240, 8324, 8420, 8644, 8888, 9056, 9392, 9764, 9776];
const a6167 = [62, 344, 440, 596, 776, 932, 1016, 1112, 1376, 1460, 1760, 1844, 2072, 2300, 2504, 2576, 2648, 2756, 2828, 3050, 3164, 3272, 3380, 3628, 3832, 4212, 4372, 4492, 4720, 4980, 5040, 5248, 5716, 6460, 6596, 6724, 6796, 6992, 7088, 7484, 7688, 7822, 8048, 8276, 8564, 8968, 9464, 9572, 9848];
const a6166 = [92, 164, 248, 362, 406, 532, 592, 740, 1100, 1628, 1892, 1964, 2360, 2636, 2708, 2768, 2984, 3036, 3260, 3284, 3712, 3880, 4000, 4186, 4348, 4372, 4732, 4864, 5128, 5272, 5428, 5636, 5920, 6124, 6208, 6442, 6544, 6688, 6856, 7280, 7484, 7504, 7652, 7916, 8186, 8312, 8396, 8552, 8684, 8900, 9158, 9284, 9452, 9836];
const a6165 = [236, 464, 764, 1112, 1232, 1352, 1700, 1772, 2852, 3188, 3248, 3520, 3784, 3952, 4504, 4792, 5128, 5272, 5368, 5536, 5632, 5764, 6004, 6068, 6160, 6268, 6376, 6820, 6928, 6944, 7472, 7568, 7844, 8168, 8240, 8396, 8672, 8816, 8960, 9080, 9152, 9416, 9596, 9716, 9788];
const a6164 = [0, 572, 1052, 1976, 2252, 2516, 2576, 3104, 3308, 3604, 3712, 5620, 6244, 6352, 6460, 6580, 6820, 7436, 7500, 7560, 7628, 7736, 7856, 8312, 8480, 8588, 8960, 9128, 9284, 9620, 9758];
const a6163 = [640, 684, 1880, 1988, 2408, 3152, 3364, 3736, 3892, 5356, 5596, 5836, 6748, 7220, 7508, 7652, 7724, 8036, 8300, 9176];
const a6162 = [188, 236, 488, 608, 1820, 1868, 2036, 3080, 4936, 4984, 5416, 5944, 6256, 7208, 7532, 8576, 9260, 9740];
const a6161 = [1916, 1988, 2228, 3140, 3188, 3224, 3332, 4420, 5200, 5608, 5896, 6328, 6580, 7028, 7220, 7640, 7904, 8336, 9584];
const a6160 = [2336, 2492, 3092, 3700, 3940, 6316, 6880, 7568, 7796, 8420, 8876];
const a6159 = [2012, 2672, 5176, 6160, 7124, 7460, 7520, 7688];
const a6158 = [212, 5452, 7340, 7736, 8096, 9164];
const a6157 = [1688, 1728, 6820, 9104];
const a6156 = [716, 6040, 7928];
const a6155 = [8960];
const a6152 = [1976, 2456];

const adcLevels = [6212, 6211, 6210, 6209, 6208, 6207, 6206, 6205, 6204, 6203, 6202, 6201, 6200, 6199, 6198, 6197, 6196, 6195, 6194, 6193, 6192, 6191, 6190, 6189, 6188, 6187, 6186, 6185, 6184, 6183, 6182, 6181, 6180, 6179, 6178, 6177, 6176, 6175, 6174, 6173, 6172, 6171, 6170, 6169, 6168, 6167, 6166, 6165, 6164, 6163, 6162, 6161, 6160, 6159, 6158, 6157, 6156, 6155, 6152];
const samplesByLevel = [a6212, a6211, a6210, a6209, a6208, a6207, a6206, a6205, a6204, a6203, a6202, a6201, a6200, a6199, a6198, a6197, a6196, a6195, a6194, a6193, a6192, a6191, a6190, a6189, a6188, a6187, a6186, a6185, a6184, a6183, a6182, a6181, a6180, a6179, a6178, a6177, a6176, a6175, a6174, a6173, a6172, a6171, a6170, a6169, a6168, a6167, a6166, a6165, a6164, a6163, a6162, a6161, a6160, a6159, a6158, a6157, a6156, a6155, a6152];

const FONT = "'DejaVu Sans', sans-serif";

const points = [];
adcLevels.forEach((level, i) => {
  samplesByLevel[i].forEach((s) => points.push({ x: s, y: level }));
});

function pickTicks(list) {
  return (scale) => {
    scale.ticks = list.map((v) => ({ value: v }));
  };
}

// full frame round the plot, the axes only give left and bottom
const plotFrame = {
  id: "plotFrame",
  afterDatasetsDraw(chart) {
    const { left, top, width, height } = chart.chartArea;
    const ctx = chart.ctx;
    ctx.save();
    ctx.strokeStyle = "#000";
    ctx.lineWidth = 1;
    ctx.strokeRect(left, top, width, height);
    ctx.restore();
  },
};

// legend box with the mu and sigma in italics, like the mathtext in the original
const legendBox = {
  id: "legendBox",
  afterDraw(chart) {
    const ctx = chart.ctx;
    ctx.save();
    ctx.beginPath();
    ctx.roundRect(781, 43, 197, 44, 3);
    ctx.fillStyle = "rgba(255,255,255,0.8)";
    ctx.fill();
    ctx.strokeStyle = "#cccccc";
    ctx.lineWidth = 1;
    ctx.stroke();

    ctx.fillStyle = "#000";
    ctx.beginPath();
    ctx.arc(800.5, 65.5, 2.75, 0, Math.PI * 2);
    ctx.fill();

    ctx.textBaseline = "alphabetic";
    ctx.font = "13.9px " + FONT;
    ctx.fillText(seriesName, 825, 59);

    const parts = [
      ["\u03bc", true], [" = 6182.3, ", false], ["\u03c3", true], [" = 8.17", false],
    ];
    let x = 825;
    parts.forEach(([text, italic]) => {
      ctx.font = (italic ? "italic " : "") + "13.9px " + FONT;
      ctx.fillText(text, x, 76);
      x += ctx.measureText(text).width;
    });
    ctx.restore();
  },
};

new Chart(document.getElementById("chart"), {
  type: "scatter",
  data: {
    datasets: [
      {
        label: seriesName,
        data: points,
        backgroundColor: "#000",
        borderWidth: 0,
        pointRadius: 2.9,
      },
    ],
  },
  options: {
    responsive: false,
    animation: false,
    devicePixelRatio: 1,
    layout: { padding: { top: 0, right: 15, bottom: 0, left: 0 } },
    plugins: {
      legend: { display: false },
      tooltip: { enabled: false },
      title: {
        display: true,
        text: chartTitle,
        color: "#000",
        font: { family: FONT, size: 16.67, weight: "normal" },
        padding: { top: 13, bottom: 3 },
      },
    },
    scales: {
      x: {
        type: "linear",
        min: -479,
        max: 10347,
        afterBuildTicks: pickTicks(xTicks),
        afterFit: (s) => { s.height = 58; },
        grid: { color: "#b0b0b0", lineWidth: 1, tickColor: "#000", tickLength: 5 },
        border: { color: "#000", width: 1 },
        ticks: {
          color: "#000",
          padding: 3,
          maxRotation: 0,
          font: { family: FONT, size: 13.9 },
          callback: (v) => String(v),
        },
        title: {
          display: true,
          text: xTitle,
          color: "#000",
          font: { family: FONT, size: 13.9 },
          padding: { top: 0, bottom: 13 },
        },
      },
      y: {
        type: "linear",
        min: 6148.98,
        max: 6215.04,
        afterBuildTicks: pickTicks(yTicks),
        afterFit: (s) => { s.width = 81; },
        grid: { color: "#b0b0b0", lineWidth: 1, tickColor: "#000", tickLength: 5 },
        border: { color: "#000", width: 1 },
        ticks: {
          color: "#000",
          padding: 3,
          font: { family: FONT, size: 13.9 },
          callback: (v) => String(v),
        },
        title: {
          display: true,
          text: yTitle,
          color: "#000",
          font: { family: FONT, size: 13.9 },
          padding: { top: 13, bottom: 0 },
        },
      },
    },
  },
  plugins: [plotFrame, legendBox],
});
</script>
</body>
</html>
